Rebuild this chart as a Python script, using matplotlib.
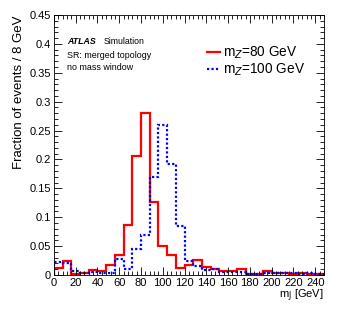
import numpy as np
import matplotlib
matplotlib.use("Agg")
import matplotlib.pyplot as plt
from matplotlib.ticker import MultipleLocator

plt.rcParams['font.family'] = ['Liberation Sans', 'DejaVu Sans']

# 8 GeV bins from 0 to 248
bin_edges = np.arange(0, 249, 8)

mz80 = [0.012, 0.025, 0.002, 0.003, 0.008, 0.007, 0.017, 0.035, 0.087, 0.206,
        0.281, 0.127, 0.050, 0.035, 0.012, 0.018, 0.026, 0.013, 0.010, 0.007,
        0.007, 0.010, 0.002, 0.002, 0.007, 0.004, 0.003, 0.002, 0.003, 0.002,
        0.001]
mz100 = [0.022, 0.021, 0.007, 0.004, 0.005, 0.004, 0.004, 0.027, 0.011, 0.045,
         0.070, 0.170, 0.259, 0.193, 0.085, 0.025, 0.016, 0.009, 0.011, 0.006,
         0.006, 0.006, 0.002, 0.002, 0.003, 0.003, 0.003, 0.003, 0.002, 0.003,
         0.002]

fig = plt.figure(figsize=(3.41, 3.27), dpi=100)
ax = fig.add_axes([0.158, 0.159, 0.792, 0.795])

ax.stairs(mz80, bin_edges, color='#ff0000', lw=1.6, label=r'm$_{Z}$=80 GeV')
ax.stairs(mz100, bin_edges, color='#0000ff', lw=1.6, ls=(0, (1, 1)),
          label=r'm$_{Z}$=100 GeV')

ax.set_xlim(0, 248)
ax.set_ylim(0, 0.45)
ax.xaxis.set_major_locator(MultipleLocator(20))
ax.xaxis.set_minor_locator(MultipleLocator(4))
ax.yaxis.set_minor_locator(MultipleLocator(0.01))
ax.set_yticks(np.arange(0, 0.46, 0.05))
ax.set_yticklabels(['0', '0.05', '0.1', '0.15', '0.2', '0.25', '0.3', '0.35', '0.4', '0.45'])
ax.tick_params(which='both', direction='in', top=True, right=True, labelsize=8, pad=2)
ax.tick_params(which='major', length=6, width=0.6)
ax.tick_params(which='minor', length=3, width=0.6)
for s in ax.spines.values():
    s.set_linewidth(0.6)

ax.set_xlabel(r'm$_{\rm J}$ [GeV]', fontsize=8, loc='right', labelpad=0)
ax.set_ylabel('Fraction of events / 8 GeV', fontsize=9.5, loc='top', labelpad=3)

ax.text(0.05, 0.9, 'ATLAS', transform=ax.transAxes, fontsize=6.3,
        fontweight='bold', style='italic', va='center')
ax.text(0.185, 0.9, 'Simulation', transform=ax.transAxes, fontsize=6.3, va='center')
ax.text(0.05, 0.845, 'SR: merged topology', transform=ax.transAxes, fontsize=6.4, va='center')
ax.text(0.05, 0.798, 'no mass window', transform=ax.transAxes, fontsize=6.4, va='center')

ax.legend(loc='upper right', bbox_to_anchor=(0.93, 0.886), frameon=False,
          fontsize=9.8, handlelength=1.0, handletextpad=0.2, labelspacing=0.02,
          borderaxespad=0, borderpad=0)

fig.savefig('out.png', dpi=100)
